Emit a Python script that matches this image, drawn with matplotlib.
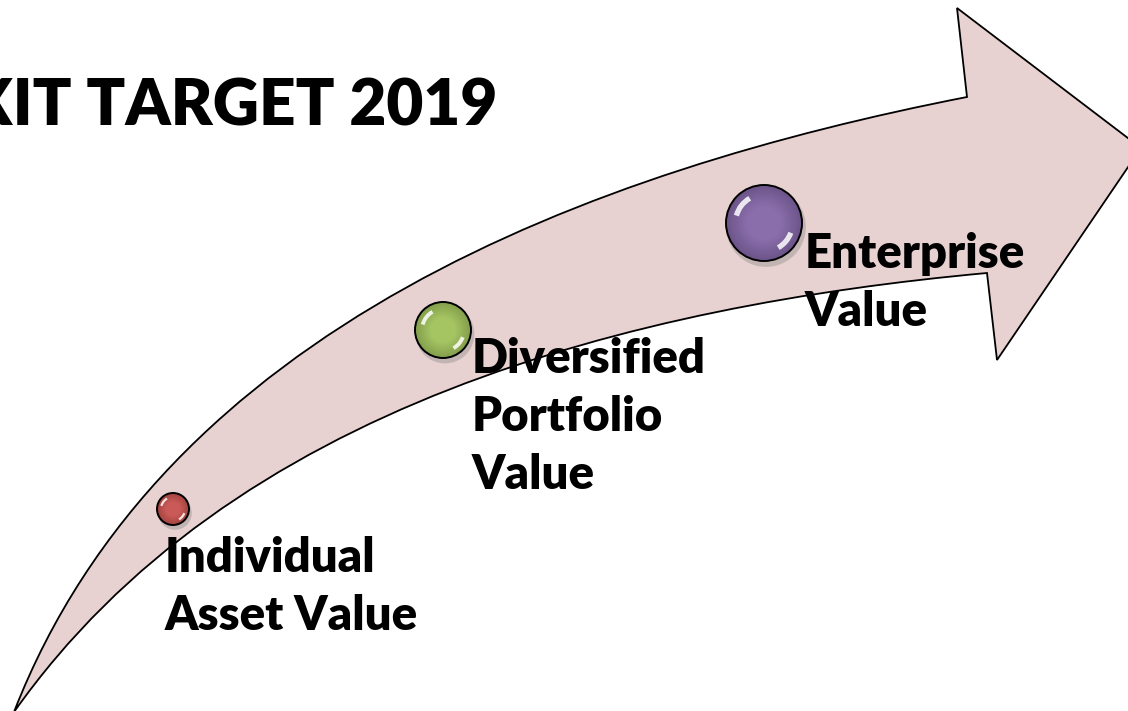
import numpy as np
import matplotlib
matplotlib.use("Agg")
import matplotlib.pyplot as plt
from matplotlib.path import Path
from matplotlib.patches import PathPatch, Circle, Arc
from matplotlib.colors import to_rgb

# --- content ---
title = "EXIT TARGET 2019"
stage_labels = [["Individual", "Asset Value"],
                ["Diversified", "Portfolio", "Value"],
                ["Enterprise", "Value"]]
sphere_colors = ["#C0504D", "#9BBB59", "#8064A2"]
sphere_x = [173, 443, 764]
sphere_y = [509, 330, 223]
sphere_r = [16, 28, 38]
label_x = [165, 472, 805]
label_y = [572, 373, 268]

# arrow outline (pixels, y down)
upper_edge = [(14, 712), (50, 637), (90, 567), (140, 500), (180, 460), (247, 390),
              (333, 330), (450, 265), (580, 210), (680, 170), (780, 139), (967, 97)]
head = [(957, 8), (1141, 148), (997, 360), (987, 273)]
lower_edge = [(987, 273), (750, 303), (580, 347), (500, 372), (380, 420), (330, 443),
              (237, 500), (183, 533), (133, 577), (83, 627), (50, 667), (14, 712)]

arrow_fill = "#E8D1D1"
font = "Lato"


def fit_cubic(points):
    # least-squares cubic bezier through the read points, ends fixed
    p = np.array(points, dtype=float)
    d = np.r_[0, np.cumsum(np.hypot(*np.diff(p, axis=0).T))]
    t = d / d[-1]
    b0, b1, b2, b3 = (1 - t) ** 3, 3 * (1 - t) ** 2 * t, 3 * (1 - t) * t ** 2, t ** 3
    rhs = p - np.outer(b0, p[0]) - np.outer(b3, p[-1])
    A = np.column_stack([b1, b2])
    ctrl, *_ = np.linalg.lstsq(A, rhs, rcond=None)
    return [tuple(ctrl[0]), tuple(ctrl[1]), tuple(p[-1])]


fig = plt.figure(figsize=(11.28, 7.11), dpi=100)
ax = fig.add_axes([0, 0, 1, 1])
ax.set_xlim(0, 1128)
ax.set_ylim(711, 0)
ax.axis("off")

up = fit_cubic(upper_edge)
lo = fit_cubic(lower_edge)
verts = [upper_edge[0]] + up + head + lo + [upper_edge[0]]
codes = ([Path.MOVETO] + [Path.CURVE4] * 3 + [Path.LINETO] * len(head)
         + [Path.CURVE4] * 3 + [Path.CLOSEPOLY])
ax.add_patch(PathPatch(Path(verts, codes), facecolor=arrow_fill,
                       edgecolor="black", lw=1.3, joinstyle="miter", zorder=1))


def sphere(cx, cy, r, color):
    base = np.array(to_rgb(color))
    ax.add_patch(Circle((cx + 2, cy + 4), r * 1.05, color="gray", alpha=0.35, lw=0, zorder=2))
    n = 12
    for i in range(n):
        f = i / (n - 1)
        c = np.clip(base * (0.85 + 0.15 * f) + 0.04 * f, 0, 1)
        ax.add_patch(Circle((cx, cy), r * (1 - 0.55 * f), color=c, lw=0, zorder=3))
    ax.add_patch(Circle((cx, cy), r, facecolor="none", edgecolor="black", lw=1.4, zorder=4))
    lw = max(1.5, r / 10)
    ax.add_patch(Arc((cx, cy), 1.5 * r, 1.5 * r, theta1=195, theta2=240,
                     color="white", lw=lw, alpha=0.85, zorder=5))
    ax.add_patch(Arc((cx, cy), 1.5 * r, 1.5 * r, theta1=20, theta2=60,
                     color="white", lw=lw, alpha=0.85, zorder=5))


for cx, cy, r, col in zip(sphere_x, sphere_y, sphere_r, sphere_colors):
    sphere(cx, cy, r, col)

step = 58
for lines, x0, y0 in zip(stage_labels, label_x, label_y):
    for k, line in enumerate(lines):
        ax.text(x0, y0 + k * step, line, family=font, weight="heavy", fontsize=34,
                ha="left", va="baseline", color="black", zorder=6)

ax.text(497, 125, title, family=font, weight="heavy", fontsize=46,
        ha="right", va="baseline", color="black", zorder=6)

fig.savefig("out.png", dpi=100)
